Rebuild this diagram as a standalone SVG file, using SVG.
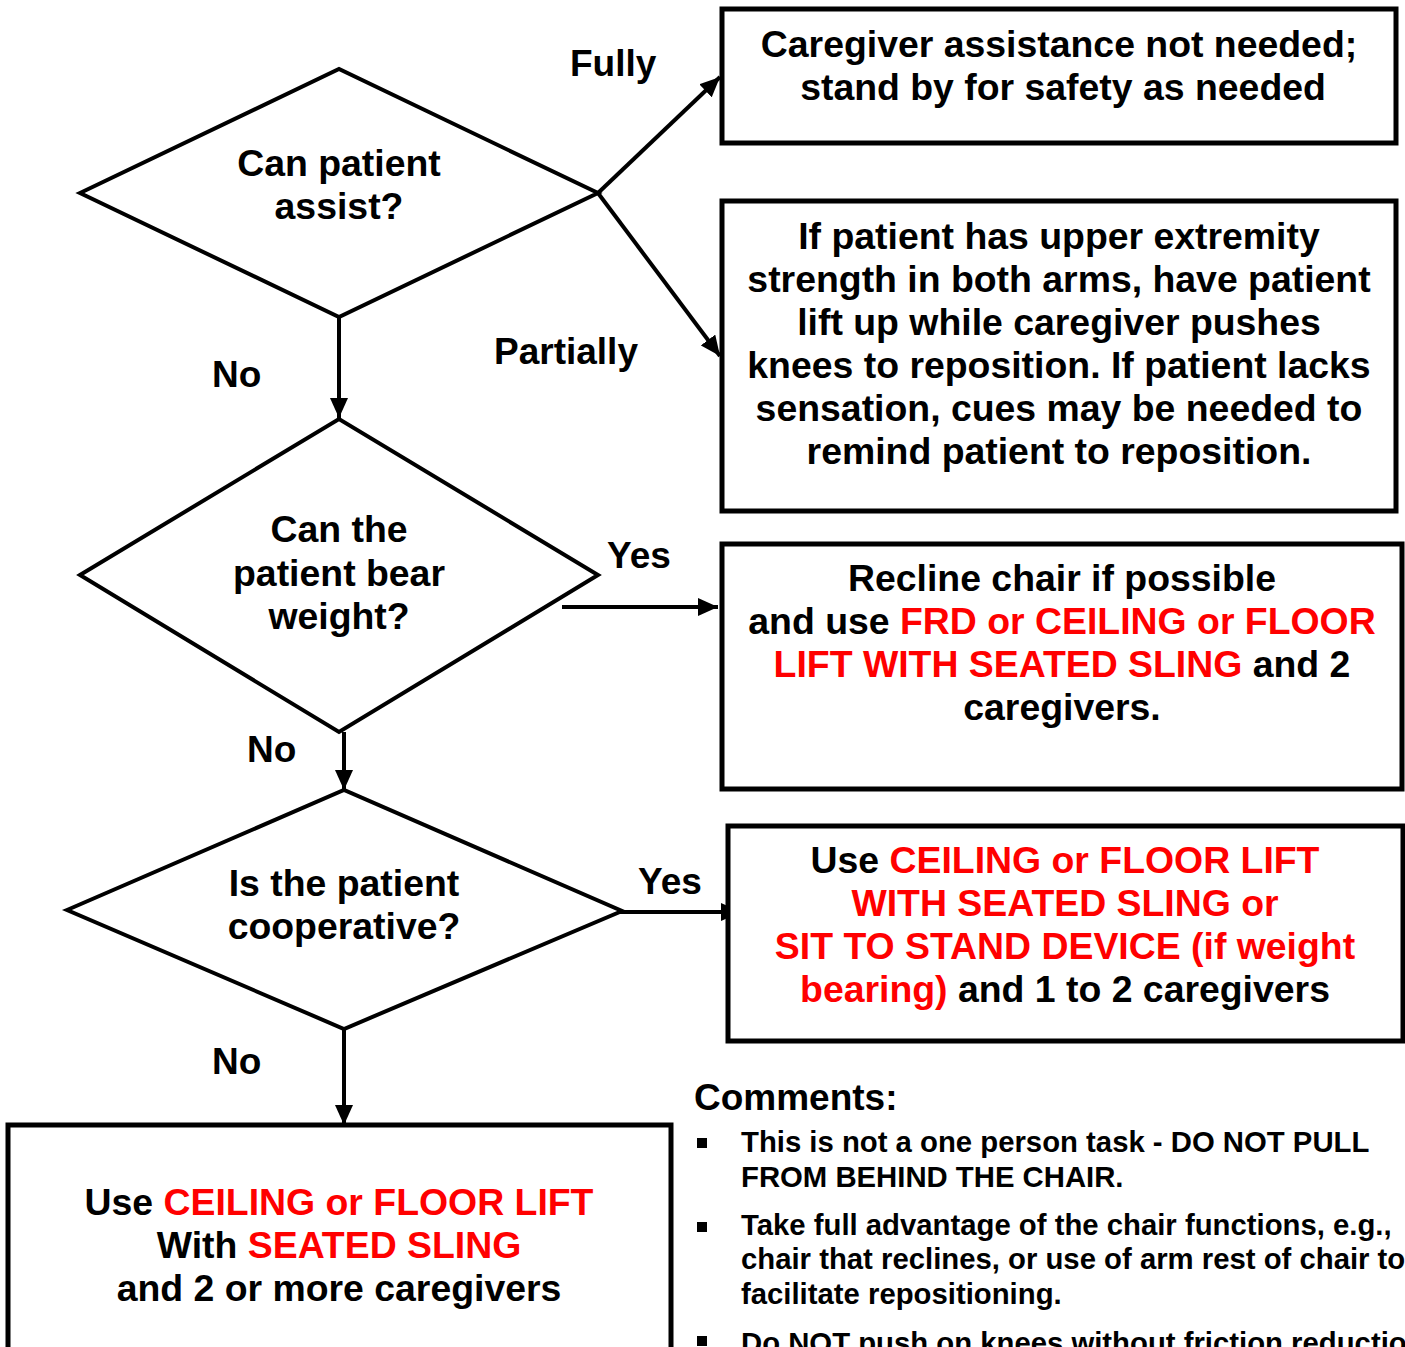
<svg xmlns="http://www.w3.org/2000/svg" width="1405" height="1347" viewBox="0 0 1405 1347">
<style>
text{font-family:"Liberation Sans",Arial,sans-serif;font-weight:bold;fill:#000}
.t{font-size:37.4px;text-anchor:middle}
.lbl{font-size:37px}
.r{fill:#FF0000}
.c{font-size:29.3px}
.shape{fill:#fff;stroke:#000;stroke-width:4}
.box{fill:#fff;stroke:#000;stroke-width:5}
.conn{stroke:#000;stroke-width:4;fill:none}
</style>
<defs>
<marker id="ah" markerUnits="userSpaceOnUse" markerWidth="22" markerHeight="18" refX="20" refY="9" orient="auto">
<path d="M0,0 L20,9 L0,18 Z" fill="#000"/>
</marker>
</defs>
<rect width="1405" height="1347" fill="#fff"/>

<g id="connectors">
<line class="conn" x1="598" y1="193" x2="720" y2="77" marker-end="url(#ah)"/>
<line class="conn" x1="598" y1="193" x2="720" y2="356" marker-end="url(#ah)"/>
<line class="conn" x1="339" y1="317" x2="339" y2="418" marker-end="url(#ah)"/>
<line class="conn" x1="562" y1="607" x2="718" y2="607" marker-end="url(#ah)"/>
<line class="conn" x1="344" y1="732" x2="344" y2="790" marker-end="url(#ah)"/>
<line class="conn" x1="620" y1="912" x2="741" y2="912" marker-end="url(#ah)"/>
<line class="conn" x1="344" y1="1029" x2="344" y2="1125" marker-end="url(#ah)"/>
<text class="lbl" x="570" y="76">Fully</text>
<text class="lbl" x="494" y="364">Partially</text>
<text class="lbl" x="212" y="387">No</text>
<text class="lbl" x="607" y="568">Yes</text>
<text class="lbl" x="247" y="762">No</text>
<text class="lbl" x="638" y="894">Yes</text>
<text class="lbl" x="212" y="1074">No</text>
</g>

<g id="d1">
<polygon class="shape" points="80,193 339,69 598,193 339,317"/>
<text class="t" x="339" y="176">Can patient</text>
<text class="t" x="339" y="219">assist?</text>
</g>

<g id="d2">
<polygon class="shape" points="80,575 339,419 598,575 339,732"/>
<text class="t" x="339" y="542">Can the</text>
<text class="t" x="339" y="586">patient bear</text>
<text class="t" x="339" y="629">weight?</text>
</g>

<g id="d3">
<polygon class="shape" points="67,910 344,790 622,911 344,1029"/>
<text class="t" x="344" y="896">Is the patient</text>
<text class="t" x="344" y="939">cooperative?</text>
</g>

<g id="b1">
<rect class="box" x="722" y="9" width="674" height="134"/>
<text class="t" x="1059" y="57">Caregiver assistance not needed;</text>
<text class="t" x="1063" y="100">stand by for safety as needed</text>
</g>

<g id="b2">
<rect class="box" x="722" y="201" width="674" height="310"/>
<text class="t" x="1059" y="249">If patient has upper extremity</text>
<text class="t" x="1059" y="292">strength in both arms, have patient</text>
<text class="t" x="1059" y="335">lift up while caregiver pushes</text>
<text class="t" x="1059" y="378">knees to reposition. If patient lacks</text>
<text class="t" x="1059" y="421">sensation, cues may be needed to</text>
<text class="t" x="1059" y="464">remind patient to reposition.</text>
</g>

<g id="b3">
<rect class="box" x="722" y="544" width="680" height="245"/>
<text class="t" x="1062" y="591">Recline chair if possible</text>
<text class="t" x="1062" y="634">and use <tspan class="r">FRD or CEILING or FLOOR</tspan></text>
<text class="t" x="1062" y="677"><tspan class="r">LIFT WITH SEATED SLING</tspan> and 2</text>
<text class="t" x="1062" y="720">caregivers.</text>
</g>

<g id="b4">
<rect class="box" x="728" y="826" width="675" height="215"/>
<text class="t" x="1065" y="873">Use <tspan class="r">CEILING or FLOOR LIFT</tspan></text>
<text class="t" x="1065" y="916"><tspan class="r">WITH SEATED SLING or</tspan></text>
<text class="t" x="1065" y="959"><tspan class="r">SIT TO STAND DEVICE (if weight</tspan></text>
<text class="t" x="1065" y="1002"><tspan class="r">bearing)</tspan> and 1 to 2 caregivers</text>
</g>

<g id="b5">
<rect class="box" x="8" y="1125" width="663" height="260"/>
<text class="t" x="339" y="1215">Use <tspan class="r">CEILING or FLOOR LIFT</tspan></text>
<text class="t" x="339" y="1258">With <tspan class="r">SEATED SLING</tspan></text>
<text class="t" x="339" y="1301">and 2 or more caregivers</text>
</g>

<g id="comments">
<text class="lbl" x="694" y="1110">Comments:</text>
<rect x="697" y="1138" width="10" height="10" fill="#000"/>
<text class="c" x="741" y="1152">This is not a one person task - DO NOT PULL</text>
<text class="c" x="741" y="1187">FROM BEHIND THE CHAIR.</text>
<rect x="697" y="1222" width="10" height="10" fill="#000"/>
<text class="c" x="741" y="1235">Take full advantage of the chair functions, e.g.,</text>
<text class="c" x="741" y="1269">chair that reclines, or use of arm rest of chair to</text>
<text class="c" x="741" y="1304">facilitate repositioning.</text>
<rect x="697" y="1336" width="10" height="10" fill="#000"/>
<text class="c" x="741" y="1353">Do NOT push on knees without friction reduction</text>
</g>
</svg>
